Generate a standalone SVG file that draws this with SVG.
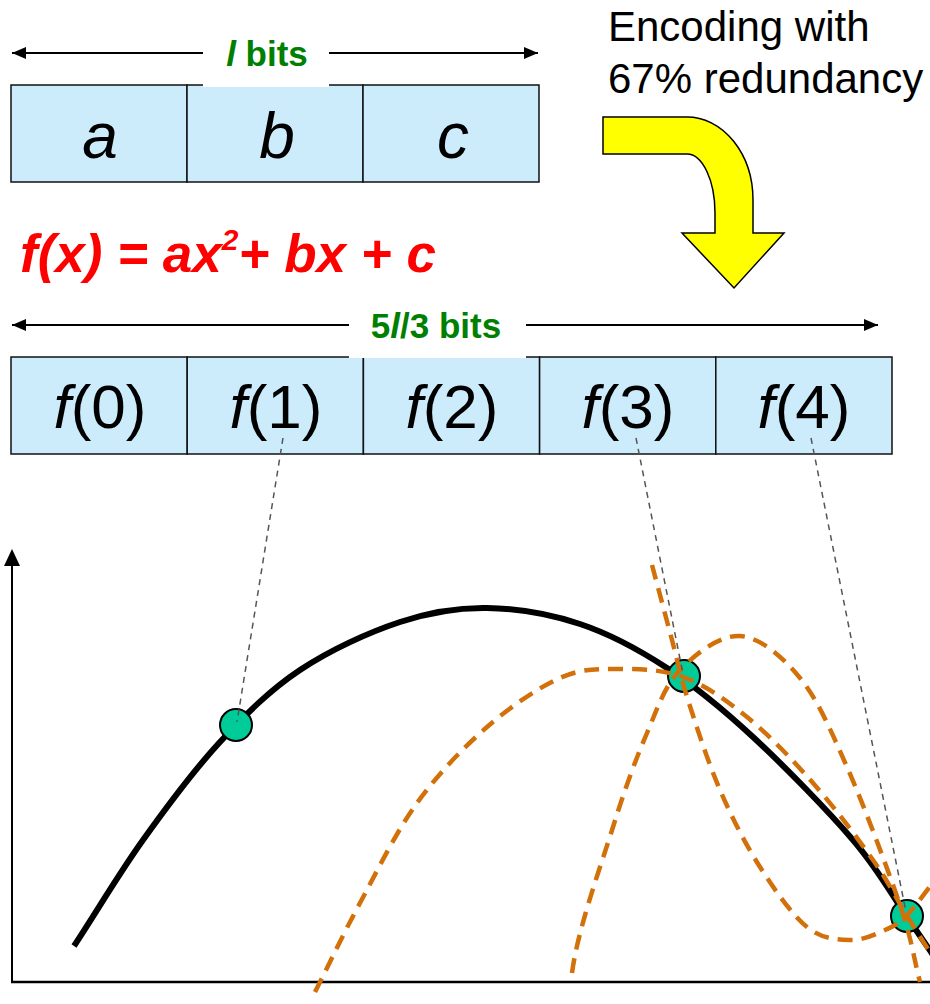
<svg xmlns="http://www.w3.org/2000/svg" width="930" height="1004" viewBox="0 0 930 1004">
<defs>
<marker id="ah" viewBox="0 0 14 12" refX="14" refY="6" markerWidth="14" markerHeight="12" markerUnits="userSpaceOnUse" orient="auto-start-reverse"><path d="M0,0 L14,6 L0,12 Z" fill="#000"/></marker>
</defs>
<style>
.cell{fill:#CCEBFB;stroke:#111;stroke-width:1.5}
.ct{font-family:"Liberation Sans",Arial,sans-serif;font-size:62px;fill:#000;text-anchor:middle}
.abc{font-size:64px}
.bits{font-family:"Liberation Sans",Arial,sans-serif;font-size:35px;font-weight:bold;fill:#008000;text-anchor:middle}
.dim{stroke:#000;stroke-width:2;fill:none}
.guide{stroke:#555;stroke-width:1.5;stroke-dasharray:6 5;fill:none}
.alt{stroke:#D2700A;stroke-width:4.5;stroke-dasharray:15 9;fill:none}
.pt{fill:#00CC99;stroke:#000;stroke-width:2}
.cover{fill:#fff;stroke:none}
</style>
<rect width="930" height="1004" fill="#fff"/>

<g id="dimension-l">
<line class="dim" x1="12" y1="53" x2="538" y2="53" marker-start="url(#ah)" marker-end="url(#ah)"/>
</g>
<g id="node-a"><rect class="cell" x="11" y="85" width="176" height="97"/><text class="ct abc" x="100" y="158" font-style="italic">a</text></g>
<g id="node-b"><rect class="cell" x="187" y="85" width="176" height="97"/><text class="ct abc" x="277" y="158" font-style="italic">b</text></g>
<g id="node-c"><rect class="cell" x="363" y="85" width="176" height="97"/><text class="ct abc" x="453" y="158" font-style="italic">c</text></g>
<g id="label-l-bits"><rect class="cover" x="203" y="33" width="126" height="54"/><text class="bits" x="267" y="66"><tspan font-style="italic">l</tspan> bits</text></g>

<g id="encoding-label">
<text x="608" y="41" font-family="Liberation Sans, Arial, sans-serif" font-size="42" fill="#000">Encoding with</text>
<text x="608" y="93" font-family="Liberation Sans, Arial, sans-serif" font-size="42" fill="#000">67% redundancy</text>
</g>
<g id="encoding-arrow">
<path d="M603,117 L687,117 A66,83 0 0 1 753,200 L753,233 L784,233 L734,288 L682,233 L715,233 L715,213 A28,59 0 0 0 687,154 L603,154 Z" fill="#FFFF00" stroke="#000" stroke-width="1.5" stroke-linejoin="miter"/>
</g>

<g id="formula">
<text x="20" y="272" font-family="Liberation Sans, Arial, sans-serif" font-weight="bold" font-style="italic" font-size="53" fill="#FF0000">f(x) = ax<tspan font-size="30" dy="-22">2</tspan><tspan dy="22">+ bx + c</tspan></text>
</g>

<g id="dimension-5l3">
<line class="dim" x1="12" y1="325" x2="878" y2="325" marker-start="url(#ah)" marker-end="url(#ah)"/>
</g>
<g id="node-f0"><rect class="cell" x="11" y="357" width="176.2" height="97"/><text class="ct" x="100" y="428"><tspan font-style="italic">f</tspan>(0)</text></g>
<g id="node-f1"><rect class="cell" x="187.2" y="357" width="176.2" height="97"/><text class="ct" x="276" y="428"><tspan font-style="italic">f</tspan>(1)</text></g>
<g id="node-f2"><rect class="cell" x="363.4" y="357" width="176.2" height="97"/><text class="ct" x="452" y="428"><tspan font-style="italic">f</tspan>(2)</text></g>
<g id="node-f3"><rect class="cell" x="539.6" y="357" width="176.2" height="97"/><text class="ct" x="628" y="428"><tspan font-style="italic">f</tspan>(3)</text></g>
<g id="node-f4"><rect class="cell" x="715.8" y="357" width="176.2" height="97"/><text class="ct" x="804" y="428"><tspan font-style="italic">f</tspan>(4)</text></g>
<g id="label-5l3-bits"><rect class="cover" x="349" y="305" width="177" height="53"/><text class="bits" x="436" y="338">5<tspan font-style="italic">l</tspan>/3 bits</text></g>

<g id="axes">
<line x1="12" y1="982" x2="12" y2="562" stroke="#000" stroke-width="2"/>
<polygon points="12,549 4,566 20,566" fill="#000"/>
<line x1="11" y1="982" x2="930" y2="982" stroke="#000" stroke-width="2.5"/>
</g>

<g id="curve-true">
<path d="M74,946 C97,911 118.7,874 143,840 C167.3,806 193.8,770.3 220,742 C246.2,713.7 270,690 300,670 C330,650 368.8,632.3 400,622 C431.2,611.7 457,607.5 487,608 C517,608.5 550,614 580,624 C610,634 638.2,649.2 667,668 C695.8,686.8 722,708.3 753,737 C784,765.7 827.3,810 853,840 C878.7,870 893.3,897.3 907,917 C920.7,936.7 925.7,944.3 935,958" fill="none" stroke="#000" stroke-width="6"/>
</g>

<g id="points">
<circle class="pt" cx="236" cy="725" r="16"/>
<circle class="pt" cx="684" cy="676" r="16"/>
<circle class="pt" cx="907" cy="916" r="16"/>
</g>

<g id="curves-alt">
<path class="alt" d="M315,992 C330,962.3 343,934.5 360,903 C377,871.5 395.8,832.3 417,803 C438.2,773.7 463.2,747.8 487,727 C510.8,706.2 538.3,687.7 560,678 C581.7,668.3 596.5,669.2 617,669 C637.5,668.8 661.3,669 683,677 C704.7,685 725.3,699.3 747,717 C768.7,734.7 792,759.2 813,783 C834,806.8 857.3,837.8 873,860 C888.7,882.2 896.7,899.3 907,916 C917.3,932.7 925.7,945.3 935,960"/>
<path class="alt" d="M572,973 C578,928 600.5,867 613,827 C625.5,787 635.8,759.2 647,733 C658.2,706.8 664.5,686.2 680,670 C695.5,653.8 720,634.7 740,636 C760,637.3 782.2,656.2 800,678 C817.8,699.8 830.3,729.2 847,767 C863.7,804.8 887.8,869.2 900,905 C912.2,940.8 913.3,956.3 920,982"/>
<path class="alt" d="M652,565 C658.7,590 666,617.5 672,640 C678,662.5 680,675 688,700 C696,725 708,762.2 720,790 C732,817.8 745.5,844.2 760,867 C774.5,889.8 792,914.8 807,927 C822,939.2 837,939.5 850,940 C863,940.5 875.5,934.2 885,930 C894.5,925.8 898.7,923.3 907,915 C915.3,906.7 925.7,891.7 935,880"/>
</g>

<g id="connectors">
<line class="guide" x1="283" y1="438" x2="237" y2="722"/>
<line class="guide" x1="636" y1="438" x2="683" y2="674"/>
<line class="guide" x1="811" y1="438" x2="906" y2="912"/>
</g>
</svg>
